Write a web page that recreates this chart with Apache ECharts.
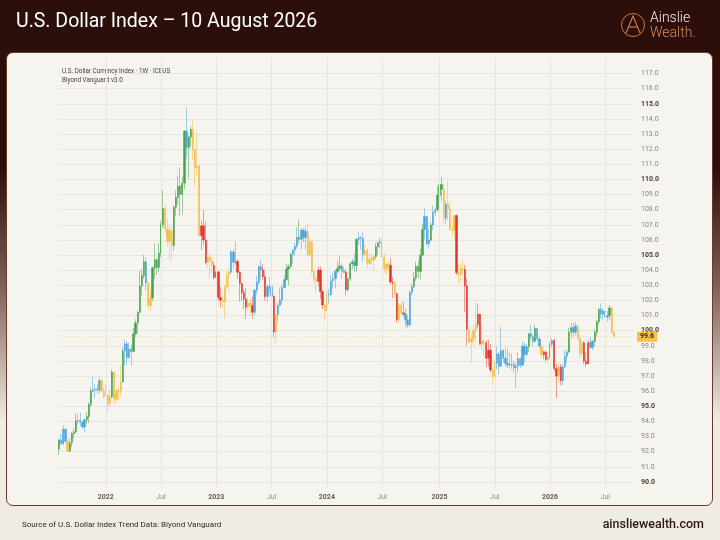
<!DOCTYPE html>
<html>
<head>
<meta charset="utf-8">
<title>U.S. Dollar Index</title>
<script src="https://cdn.jsdelivr.net/npm/echarts@6/dist/echarts.min.js"></script>
<style>
  html, body { margin: 0; padding: 0; }
  body {
    width: 720px; height: 540px; overflow: hidden; position: relative;
    background: linear-gradient(to bottom, #2c0f0a 0%, #2c0f0a 31%, #7d5b50 52%, #efece5 78%, #efece5 100%);
  }
  #card {
    position: absolute; left: 6px; top: 52px; width: 705px; height: 452px;
    border: 1.5px solid #6a3b2c; border-radius: 7px; background: #f5f4ef;
  }
  #chart { position: absolute; left: 0; top: 0; width: 720px; height: 540px; }
</style>
</head>
<body>
<div id="card"></div>
<div id="chart"></div>
<script>
// weekly bars, each row: [open, close, low, high]
var ohlc2021 = [
  [92.17, 92.78, 91.78, 92.85], [92.78, 92.52, 92.47, 93.19], [92.52, 93.50, 92.43, 93.73],
  [93.50, 92.68, 92.65, 93.50], [92.68, 92.03, 91.94, 92.76], [92.03, 92.58, 92.03, 92.85],
  [92.58, 93.20, 92.30, 93.31], [93.20, 93.32, 92.88, 93.53], [93.32, 94.04, 93.24, 94.50],
  [94.04, 94.07, 93.79, 94.50], [94.07, 93.96, 93.67, 94.56], [93.96, 93.64, 93.50, 94.00],
  [93.64, 94.12, 93.28, 94.20], [94.12, 94.32, 93.87, 94.63], [94.32, 95.12, 93.88, 95.27],
  [95.12, 96.03, 94.96, 96.25], [96.03, 96.09, 95.92, 96.94], [96.09, 96.15, 95.52, 96.47],
  [96.15, 96.08, 95.86, 96.44], [96.08, 96.70, 95.85, 96.91], [96.70, 96.03, 95.92, 96.74],
  [96.03, 95.67, 95.54, 96.22]
];
var ohlc2022 = [
  [95.67, 95.73, 95.67, 96.46], [95.73, 95.17, 94.63, 95.84], [95.17, 95.64, 94.95, 96.12],
  [95.64, 97.27, 95.52, 97.44], [97.27, 95.47, 95.14, 97.34], [95.47, 96.04, 95.27, 96.07],
  [96.04, 96.03, 95.38, 96.30], [96.03, 96.62, 95.62, 97.74], [96.62, 98.66, 96.57, 98.89],
  [98.66, 99.13, 97.71, 99.42], [99.13, 98.23, 97.73, 99.29], [98.23, 98.79, 98.13, 99.19],
  [98.79, 98.62, 97.68, 99.07], [98.62, 99.79, 98.61, 100.19], [99.79, 100.52, 99.57, 100.76],
  [100.52, 101.20, 99.82, 101.34], [101.20, 102.96, 101.20, 103.93], [102.96, 103.66, 102.35, 104.07],
  [103.66, 104.56, 103.42, 105.01], [104.56, 103.15, 102.66, 104.85], [103.15, 101.66, 101.43, 103.27],
  [101.66, 102.17, 101.30, 102.74], [102.17, 104.16, 101.96, 104.24], [104.16, 104.69, 103.41, 105.79],
  [104.69, 104.17, 103.68, 104.78], [104.17, 105.13, 103.90, 105.79], [105.13, 107.01, 104.87, 107.26],
  [107.01, 108.07, 106.77, 109.29], [108.07, 106.73, 106.39, 108.30], [106.73, 105.90, 105.54, 107.43],
  [105.90, 106.62, 104.63, 106.93], [106.62, 105.64, 104.64, 106.93], [105.64, 108.16, 105.29, 108.27],
  [108.16, 108.81, 107.58, 109.27], [108.81, 109.55, 108.35, 110.27], [109.55, 109.01, 107.59, 110.79],
  [109.01, 109.76, 107.68, 110.18], [109.76, 113.19, 109.36, 113.26], [113.19, 112.12, 111.38, 114.78],
  [112.12, 112.80, 110.06, 112.88], [112.80, 113.31, 112.15, 113.49], [113.31, 111.98, 111.29, 113.88],
  [111.98, 110.75, 109.54, 112.01], [110.75, 110.87, 110.19, 113.15], [110.87, 106.29, 106.27, 111.02],
  [106.29, 106.93, 105.34, 107.28], [106.93, 106.00, 105.64, 107.99], [106.00, 104.51, 104.37, 107.20],
  [104.51, 104.87, 104.12, 105.93], [104.87, 104.66, 103.44, 105.08], [104.66, 104.31, 103.79, 104.87],
  [104.31, 103.52, 103.38, 104.55]
];
var ohlc2023 = [
  [103.52, 103.89, 103.48, 105.63], [103.89, 102.20, 101.99, 103.95], [102.20, 102.02, 101.53, 102.90],
  [102.02, 101.92, 101.50, 102.26], [101.92, 102.92, 100.82, 103.01], [102.92, 103.63, 102.79, 103.96],
  [103.63, 103.87, 102.64, 104.12], [103.87, 105.21, 103.78, 105.36], [105.21, 104.53, 104.10, 105.36],
  [104.53, 104.58, 104.32, 105.88], [104.58, 103.86, 103.44, 104.74], [103.86, 103.12, 101.92, 103.93],
  [103.12, 102.51, 101.96, 103.15], [102.51, 102.09, 101.44, 102.74], [102.09, 101.55, 100.79, 102.81],
  [101.55, 101.83, 101.38, 102.21], [101.83, 101.66, 101.02, 102.05], [101.66, 101.22, 100.79, 102.28],
  [101.22, 102.68, 101.01, 102.75], [102.68, 103.20, 102.34, 103.62], [103.20, 104.23, 103.04, 104.32],
  [104.23, 104.03, 103.38, 104.70], [104.03, 103.56, 103.34, 104.39], [103.56, 102.26, 102.00, 103.99],
  [102.26, 102.90, 101.91, 103.06], [102.90, 102.91, 102.49, 103.54], [102.91, 102.27, 101.97, 103.32],
  [102.27, 99.91, 99.57, 102.34], [99.91, 101.07, 99.22, 101.12], [101.07, 101.67, 100.55, 101.85],
  [101.67, 102.02, 101.67, 102.84], [102.02, 102.85, 101.74, 103.04], [102.85, 103.38, 102.79, 103.69],
  [103.38, 104.08, 103.31, 104.44], [104.08, 104.24, 103.01, 104.38], [104.24, 105.07, 104.18, 105.16],
  [105.07, 105.32, 104.42, 105.43], [105.32, 105.58, 104.94, 105.78], [105.58, 106.17, 105.45, 106.84],
  [106.17, 106.04, 105.77, 107.35], [106.04, 106.65, 105.37, 106.78], [106.65, 106.16, 105.85, 106.79],
  [106.16, 106.56, 105.37, 106.89], [106.56, 105.02, 104.84, 107.11], [105.02, 105.87, 104.94, 106.03],
  [105.87, 103.92, 103.76, 105.95], [103.92, 103.42, 103.17, 103.98], [103.42, 103.27, 102.46, 103.65],
  [103.27, 104.01, 102.92, 104.26], [104.01, 102.59, 102.12, 104.26], [102.59, 101.70, 101.42, 102.66],
  [101.70, 101.33, 100.62, 101.78]
];
var ohlc2024 = [
  [101.33, 102.42, 101.30, 102.72], [102.42, 102.40, 101.77, 102.76], [102.40, 103.29, 102.25, 103.69],
  [103.29, 103.44, 102.78, 103.82], [103.44, 103.92, 102.82, 104.05], [103.92, 104.11, 103.77, 104.60],
  [104.11, 104.28, 103.94, 104.97], [104.28, 103.94, 103.43, 104.45], [103.94, 103.86, 103.81, 104.22],
  [103.86, 102.71, 102.34, 104.08], [102.71, 103.43, 102.57, 103.48], [103.43, 104.43, 103.29, 104.49],
  [104.43, 104.55, 104.05, 104.73], [104.55, 104.30, 103.88, 105.10], [104.30, 106.04, 103.90, 106.12],
  [106.04, 106.14, 105.69, 106.52], [106.14, 106.09, 105.34, 106.26], [106.09, 105.04, 104.52, 106.49],
  [105.04, 105.30, 104.94, 105.74], [105.30, 104.45, 104.08, 105.47], [104.45, 104.72, 104.38, 105.15],
  [104.72, 104.67, 104.35, 105.06], [104.67, 104.89, 103.99, 105.00], [104.89, 105.55, 104.73, 105.81],
  [105.55, 105.80, 105.04, 105.91], [105.80, 105.87, 105.46, 106.13], [105.87, 104.88, 104.80, 106.12],
  [104.88, 104.09, 103.85, 105.12], [104.09, 104.40, 103.65, 104.45], [104.40, 104.32, 104.00, 104.60],
  [104.32, 103.21, 103.06, 104.80], [103.21, 103.14, 102.15, 103.55], [103.14, 102.45, 102.17, 103.28],
  [102.45, 100.72, 100.54, 102.52], [100.72, 101.70, 100.51, 101.85], [101.70, 101.18, 100.98, 101.92],
  [101.18, 101.11, 100.90, 101.91], [101.11, 100.72, 100.21, 101.47], [100.72, 100.38, 100.16, 101.00],
  [100.38, 102.52, 100.23, 102.69], [102.52, 102.90, 102.33, 103.13], [102.90, 103.49, 102.80, 103.87],
  [103.49, 104.26, 103.30, 104.57], [104.26, 103.91, 103.50, 104.63], [103.91, 104.99, 103.37, 105.44],
  [104.99, 106.69, 104.95, 107.07], [106.69, 107.55, 106.04, 108.07], [107.55, 105.74, 105.63, 107.60],
  [105.74, 105.99, 105.42, 106.72], [105.99, 106.99, 105.91, 107.18], [106.99, 107.82, 106.65, 108.27],
  [107.82, 108.00, 107.60, 108.16], [108.00, 108.95, 107.87, 109.54]
];
var ohlc2025 = [
  [108.95, 109.65, 107.75, 109.92], [109.65, 109.35, 108.57, 110.18], [109.35, 107.44, 107.11, 109.74],
  [107.44, 108.37, 107.06, 108.55], [108.37, 108.04, 107.25, 109.88], [108.04, 106.71, 106.56, 108.52],
  [106.71, 106.63, 106.35, 107.15], [106.63, 107.61, 106.12, 107.66], [107.61, 103.84, 103.70, 107.70],
  [103.84, 103.72, 103.20, 104.38], [103.72, 104.09, 103.19, 104.40], [104.09, 104.04, 103.73, 104.68],
  [104.04, 102.96, 101.26, 104.35], [102.96, 100.10, 99.01, 103.46], [100.10, 99.23, 99.19, 100.28],
  [99.23, 99.47, 97.92, 99.86], [99.47, 100.04, 98.94, 100.38], [100.04, 100.42, 99.17, 101.98],
  [100.42, 101.09, 100.18, 101.79], [101.09, 99.11, 99.09, 101.12], [99.11, 99.33, 98.69, 100.54],
  [99.33, 99.19, 98.35, 99.45], [99.19, 98.18, 97.60, 99.37], [98.18, 98.71, 97.61, 99.42],
  [98.71, 97.40, 97.26, 99.12], [97.40, 96.98, 96.38, 97.42], [96.98, 97.85, 96.84, 98.04],
  [97.85, 98.46, 97.45, 98.95], [98.46, 97.65, 97.10, 98.60], [97.65, 98.69, 97.58, 100.25],
  [98.69, 98.18, 97.90, 98.80], [98.18, 97.85, 97.63, 98.85], [97.85, 97.72, 97.53, 98.80],
  [97.72, 97.77, 97.55, 98.55], [97.77, 97.77, 97.45, 98.50], [97.77, 97.55, 97.25, 98.00],
  [97.55, 97.65, 96.22, 97.90], [97.65, 98.15, 97.20, 98.60], [98.15, 97.72, 97.55, 98.20],
  [97.72, 98.98, 97.65, 99.30], [98.98, 98.43, 97.92, 99.20], [98.43, 98.95, 98.30, 99.10],
  [98.95, 99.80, 98.60, 99.85], [99.80, 99.60, 99.40, 100.36], [99.60, 99.30, 99.00, 99.70],
  [99.30, 100.15, 99.20, 100.40], [100.15, 99.45, 99.30, 100.20], [99.45, 98.99, 98.80, 99.60],
  [98.99, 98.40, 98.20, 99.10], [98.40, 98.60, 98.10, 98.70], [98.60, 98.10, 97.95, 98.65],
  [98.10, 98.30, 97.85, 98.40]
];
var ohlc2026 = [
  [98.30, 99.10, 98.10, 99.30], [99.10, 99.35, 98.90, 99.50], [99.35, 97.50, 97.30, 99.50],
  [97.50, 97.00, 95.55, 97.80], [97.00, 97.60, 96.60, 97.90], [97.60, 96.70, 96.40, 97.80],
  [96.70, 97.60, 96.40, 97.80], [97.60, 98.30, 97.50, 98.70], [98.30, 98.60, 97.90, 98.80],
  [98.60, 99.90, 98.50, 100.20], [99.90, 100.20, 99.50, 100.50], [100.20, 99.90, 99.60, 100.50],
  [99.90, 100.30, 99.70, 100.60], [100.30, 99.50, 99.30, 100.50], [99.50, 98.50, 98.20, 99.70],
  [98.50, 99.20, 98.30, 99.40], [99.20, 98.00, 97.80, 99.30], [98.00, 97.80, 97.60, 98.60],
  [97.80, 99.20, 97.80, 99.40], [99.20, 98.90, 98.80, 99.60], [98.90, 99.30, 98.70, 99.40],
  [99.30, 99.90, 99.00, 100.10], [99.90, 100.60, 99.60, 100.70], [100.60, 101.40, 100.40, 101.50],
  [101.40, 101.10, 100.80, 101.80], [101.10, 101.30, 100.70, 101.50], [101.30, 100.90, 100.60, 101.40],
  [100.90, 101.00, 100.60, 101.30], [101.00, 101.50, 100.70, 101.70], [101.50, 99.90, 99.80, 101.60],
  [99.90, 99.60, 99.55, 99.95]
];

// trend state of each bar: G up, Y pullback, R down, B neutral
var trend2021 = 'GBBBYGGGGBBBBGGGBBBBYY';
var trend2022 = 'YYYGYYYYGBBBBGGGGGGBYYGGGGGGYYYYGGGGGGBGGYYYYRRRYYYR';
var trend2023 = 'RRRYYYYBBBRRRRRYYRBBBBRRBBBRYBBBBGGGBBBGBBBYYYYYRRRY';
var trend2024 = 'YBBBBGGBBRGGGBGBBBYYYYYGGBYYYYRRYRYYRBBBBGGGGGBBBGBBG';
var trend2025 = 'GGYBYYYYRYYYRRYYYYRRYYRRRYYBBBBBBBBBBBBBBBGBBGBBYRRY';
var trend2026 = 'BBRRYRBBBGGBBYYYRRRBBGGGBBBBGYY';

var lastPrice = 99.6;
var priceMin = 89, priceMax = 118;
var firstWeek = Date.UTC(2021, 7, 2);
var padWeeks = 9;

var trendColors = { G: '#45a24c', Y: '#f3bf45', R: '#e2352a', B: '#4aa3df' };
var wickColors = { G: 'rgba(69,162,76,0.5)', Y: 'rgba(243,191,69,0.55)', R: 'rgba(226,53,42,0.45)', B: 'rgba(74,163,223,0.5)' };

var bars = [].concat(ohlc2021, ohlc2022, ohlc2023, ohlc2024, ohlc2025, ohlc2026);
var trend = (trend2021 + trend2022 + trend2023 + trend2024 + trend2025 + trend2026).split('');

var weeks = [];
for (var i = 0; i < bars.length + padWeeks; i++) {
  var d = new Date(firstWeek + i * 7 * 86400000);
  weeks.push(d.getUTCFullYear() + '-' + ('0' + (d.getUTCMonth() + 1)).slice(-2) + '-' + ('0' + d.getUTCDate()).slice(-2));
}

// first week of January and July gets a label and a vertical line
var labelIdx = [];
for (var j = 1; j < weeks.length; j++) {
  var m = weeks[j].slice(5, 7), pm = weeks[j - 1].slice(5, 7);
  if (m !== pm && (m === '01' || m === '07')) labelIdx.push(j);
}

var wickData = bars.map(function (b, k) {
  var c = wickColors[trend[k]];
  return { value: b, itemStyle: { color: c, color0: c, borderColor: c, borderColor0: c } };
});
var bodyData = bars.map(function (b, k) {
  var c = trendColors[trend[k]];
  return {
    value: [b[0], b[1], Math.min(b[0], b[1]), Math.max(b[0], b[1])],
    itemStyle: { color: c, color0: c, borderColor: c, borderColor0: c }
  };
});

var chart = echarts.init(document.getElementById('chart'));

var option = {
  animation: false,
  backgroundColor: 'transparent',
  textStyle: { fontFamily: 'Roboto, "Noto Sans", sans-serif' },
  grid: { left: 58, right: 86, top: 58.4, bottom: 42.9 },
  xAxis: {
    type: 'category',
    data: weeks,
    boundaryGap: true,
    axisLine: { show: false },
    axisTick: { show: false },
    splitLine: { show: false },
    axisLabel: {
      margin: -3,
      interval: function (index) { return labelIdx.indexOf(index) >= 0; },
      formatter: function (v) {
        return v.slice(5, 7) === '01' ? '{yr|' + v.slice(0, 4) + '}' : '{mo|Jul}';
      },
      rich: {
        yr: { fontSize: 7, fontWeight: 'bold', color: '#6a5a50' },
        mo: { fontSize: 7, color: '#948a83' }
      }
    }
  },
  yAxis: {
    type: 'value',
    position: 'right',
    min: priceMin,
    max: priceMax,
    interval: 1,
    axisLine: { show: false },
    axisTick: { show: false },
    splitLine: { show: true, showMinLine: false, showMaxLine: false, lineStyle: { color: '#e8e5de', width: 1 } },
    axisLabel: {
      margin: 7,
      formatter: function (v) {
        if (v === priceMin || v === priceMax) return '';
        var s = v.toFixed(1);
        return v % 5 === 0 ? '{b|' + s + '}' : '{n|' + s + '}';
      },
      rich: {
        b: { fontSize: 7, fontWeight: 'bold', color: '#4e3c32' },
        n: { fontSize: 7, color: '#8f857e' }
      }
    }
  },
  graphic: [
    { type: 'text', left: 16, top: 12.5, style: { text: 'U.S. Dollar Index \u2013 10 August 2026', fill: '#ffffff', font: '19.5px Roboto, sans-serif' } },
    { type: 'circle', shape: { cx: 633, cy: 25, r: 11.5 }, style: { fill: 'none', stroke: '#c97a48', lineWidth: 1 } },
    { type: 'polyline', shape: { points: [[626, 33], [633, 16], [640, 33]] }, style: { fill: 'none', stroke: '#c97a48', lineWidth: 1.2 } },
    { type: 'polyline', shape: { points: [[629, 27], [637, 27]] }, style: { fill: 'none', stroke: '#c97a48', lineWidth: 1.2 } },
    { type: 'text', left: 650, top: 11, style: { text: 'Ainslie', fill: '#f2ebe6', font: '300 14px Roboto, sans-serif' } },
    { type: 'text', left: 650, top: 26, style: { text: 'Wealth.', fill: '#d9895c', font: '300 14px Roboto, sans-serif' } },
    { type: 'text', left: 62, top: 68.5, style: { text: 'U.S. Dollar Currency Index \u00b7 1W \u00b7 ICEUS', fill: '#4a3e37', font: '6.3px Roboto, sans-serif' } },
    { type: 'text', left: 62, top: 77, style: { text: 'Biyond Vanguard v3.0', fill: '#4a3e37', font: '6.3px Roboto, sans-serif' } },
    { type: 'text', left: 22, top: 521, style: { text: 'Source of U.S. Dollar Index Trend Data: Biyond Vanguard', fill: '#3a2820', font: '8px Roboto, sans-serif' } },
    { type: 'text', right: 16, top: 518.5, style: { text: 'ainsliewealth.com', fill: '#2a1712', font: '500 12.5px Roboto, sans-serif' } }
  ],
  series: [
    {
      name: 'grid',
      type: 'line',
      data: [],
      silent: true,
      z: 1,
      markLine: {
        silent: true,
        symbol: ['none', 'none'],
        animation: false,
        label: { show: false },
        lineStyle: { color: '#e8e5de', type: 'solid', width: 1 },
        data: labelIdx.map(function (k) {
          return [{ coord: [weeks[k], priceMax] }, { coord: [weeks[k], 89.6] }];
        }).concat([{
          yAxis: lastPrice,
          lineStyle: { color: 'rgba(239,185,60,0.55)', type: [1, 2], width: 0.8 },
          label: {
            show: true, position: 'end', distance: 3, formatter: lastPrice.toFixed(1),
            backgroundColor: '#f4c244', color: '#3b2a1b', fontWeight: 'bold', fontSize: 7,
            padding: [2, 3, 1, 3]
          }
        }])
      }
    },
    {
      name: 'wick',
      type: 'candlestick',
      data: wickData,
      barWidth: 1,
      silent: true,
      z: 3,
      itemStyle: { borderWidth: 1 }
    },
    {
      name: 'body',
      type: 'candlestick',
      data: bodyData,
      barWidth: 1.8,
      silent: true,
      z: 4,
      itemStyle: { borderWidth: 0.5 }
    }
  ]
};

chart.setOption(option);
</script>
</body>
</html>
